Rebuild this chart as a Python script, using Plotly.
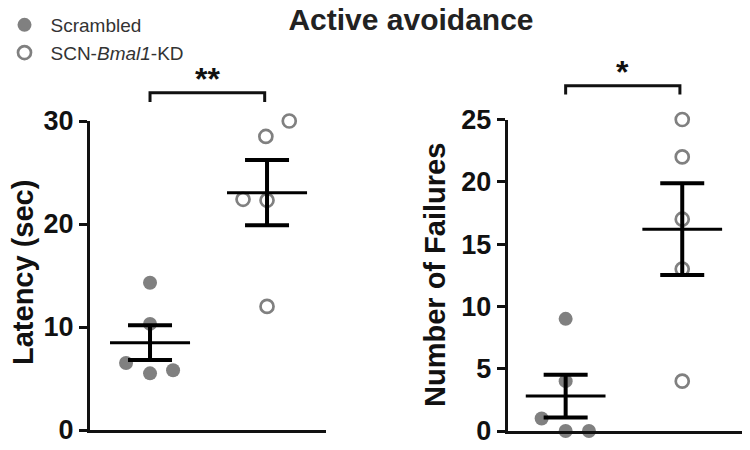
import numpy as np
import plotly.graph_objects as go

# ---------------- data ----------------
groups = ["Scrambled", "SCN-<i>Bmal1</i>-KD"]
latency_scrambled = [14.3, 10.3, 6.5, 5.5, 5.8]
latency_kd = [30.0, 28.5, 22.4, 22.3, 12.0]
failures_scrambled = [9, 4, 1, 0, 0]
failures_kd = [25, 22, 17, 13, 4]
latency_ticks = [0, 10, 20, 30]
failures_ticks = [0, 5, 10, 15, 20, 25]
latency_title = "Latency (sec)"
failures_title = "Number of Failures"
chart_title = "Active avoidance"
latency_sig = "**"
failures_sig = "*"

# ---------------- layout helpers (positions only) ----------------
group_pos = [1, 2]
lat_scr_off = [0, 0, -0.205, 0, 0.197]
lat_kd_off = [0.19, -0.01, -0.205, 0, 0]
fail_scr_off = [0, 0, -0.206, 0, 0.2]
fail_kd_off = [0, 0, 0, 0, 0]

GRAY = "#808080"
FONT = "Liberation Sans, Arial, sans-serif"
mean_half = 0.342
cap_px = 22

fig = go.Figure()


def add_group(vals, offs, center, xa, ya, filled, name, showlegend):
    x = [center + o for o in offs]
    if filled:
        marker = dict(symbol="circle", size=14, color=GRAY, line=dict(width=0))
    else:
        marker = dict(symbol="circle-open", size=13, color=GRAY, line=dict(width=2.7, color=GRAY))
    fig.add_trace(go.Scatter(x=x, y=vals, mode="markers", marker=marker, name=name,
                             showlegend=showlegend, xaxis=xa, yaxis=ya, cliponaxis=False,
                             legendgroup=name))
    arr = np.array(vals, dtype=float)
    m = arr.mean()
    sem = arr.std(ddof=1) / np.sqrt(len(arr))
    fig.add_trace(go.Scatter(x=[center - mean_half, center + mean_half], y=[m, m], mode="lines",
                             line=dict(color="black", width=3), showlegend=False,
                             xaxis=xa, yaxis=ya, hoverinfo="skip"))
    fig.add_trace(go.Scatter(x=[center], y=[m], mode="markers", marker=dict(size=1, opacity=0),
                             error_y=dict(type="data", array=[sem], symmetric=True, width=cap_px,
                                          thickness=4, color="black"),
                             showlegend=False, xaxis=xa, yaxis=ya, cliponaxis=False, hoverinfo="skip"))


add_group(latency_scrambled, lat_scr_off, group_pos[0], "x", "y", True, groups[0], True)
add_group(latency_kd, lat_kd_off, group_pos[1], "x", "y", False, groups[1], True)
add_group(failures_scrambled, fail_scr_off, group_pos[0], "x2", "y2", True, groups[0], False)
add_group(failures_kd, fail_kd_off, group_pos[1], "x2", "y2", False, groups[1], False)

x1_range = [0.487, 2.504]
x2_range = [0.503, 2.51]
y1_range = [0, 30]
y2_range = [0, 25]

axis_common = dict(showgrid=False, zeroline=False, showline=True, linewidth=3, linecolor="#111",
                   automargin=False)
xcommon = dict(axis_common, showticklabels=False, ticks="")
ycommon = dict(axis_common, ticks="outside", ticklen=8, tickwidth=3, tickcolor="#111",
               tickfont=dict(family=FONT, size=27, color="#111", weight="bold"))

fig.update_layout(
    width=750, height=450,
    margin=dict(l=0, r=0, t=0, b=0, autoexpand=False),
    paper_bgcolor="white", plot_bgcolor="white",
    xaxis=dict(xcommon, domain=[90 / 750, 326 / 750], range=x1_range, anchor="y"),
    yaxis=dict(ycommon, domain=[1 - 430 / 450, 1 - 121 / 450], range=y1_range,
               tickvals=latency_ticks, anchor="x"),
    xaxis2=dict(xcommon, domain=[507.7 / 750, 741.7 / 750], range=x2_range, anchor="y2"),
    yaxis2=dict(ycommon, domain=[1 - 431 / 450, 1 - 119.5 / 450], range=y2_range,
                tickvals=failures_ticks, anchor="x2"),
    showlegend=True,
    legend=dict(x=-0.002, y=1 - 6 / 450, xanchor="left", yanchor="top", bgcolor="rgba(0,0,0,0)",
                font=dict(family=FONT, size=19, color="#333"), itemwidth=42,
                tracegroupgap=0),
    title=dict(text="<b>" + chart_title + "</b>", x=411 / 750, xanchor="center",
               y=1 - 9 / 450, yanchor="top",
               font=dict(family=FONT, size=30, color="#222")),
)

# axis titles as rotated text
fig.add_annotation(text="<b>" + latency_title + "</b>", xref="paper", yref="paper",
                   x=23 / 750, y=1 - 273 / 450, xanchor="center", yanchor="middle",
                   textangle=-90, showarrow=False,
                   font=dict(family=FONT, size=29, color="#111"))
fig.add_annotation(text="<b>" + failures_title + "</b>", xref="paper", yref="paper",
                   x=435 / 750, y=1 - 275 / 450, xanchor="center", yanchor="middle",
                   textangle=-90, showarrow=False,
                   font=dict(family=FONT, size=29, color="#111"))


# significance brackets
def bracket(xref, yref, yr, x0, x1, ytop, ybot, text):
    span = yr[1] - yr[0]
    t = (ytop - yr[0]) / span
    b = (ybot - yr[0]) / span
    fig.add_shape(type="path", xref=xref, yref=yref + " domain",
                  path=f"M {x0},{b} L {x0},{t} L {x1},{t} L {x1},{b}",
                  line=dict(color="#111", width=3))
    fig.add_annotation(text="<b>" + text + "</b>", xref=xref, yref=yref + " domain",
                       x=(x0 + x1) / 2, y=t, yanchor="bottom", showarrow=False, yshift=-6,
                       font=dict(family=FONT, size=32, color="#111"))


bracket("x", "y", y1_range, 1.0, 1.98, 32.75, 31.85, latency_sig)
bracket("x2", "y2", y2_range, 1.0, 1.98, 27.7, 27.0, failures_sig)

fig.write_html("out.html", config={"displayModeBar": False},
               post_script="document.body.style.margin='0px';")
